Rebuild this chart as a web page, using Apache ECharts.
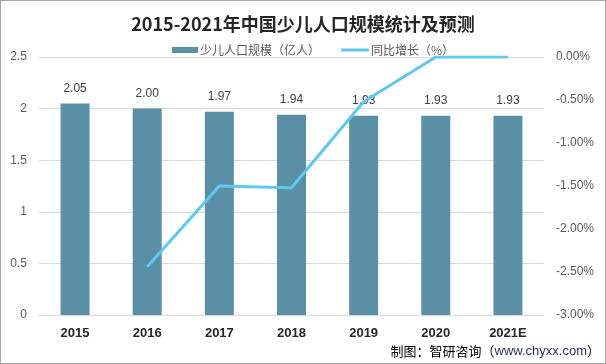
<!DOCTYPE html>
<html><head><meta charset="utf-8">
<script src="https://cdn.jsdelivr.net/npm/echarts@6/dist/echarts.min.js"></script>
<style>html,body{margin:0;padding:0;background:#fff}#c{width:606px;height:364px;box-sizing:border-box;border:1px solid #a6a6a6}</style>
</head><body><div id="c"></div>
<script>
var categories = ['2015','2016','2017','2018','2019','2020','2021E'];
var population = [2.05, 2.00, 1.97, 1.94, 1.93, 1.93, 1.93];
var growth = [null, -2.44, -1.50, -1.52, -0.52, 0.00, 0.00];
var leftTicks = {min: 0, max: 2.5, interval: 0.5};
var rightTicks = {min: -3, max: 0, interval: 0.5};

var chart = echarts.init(document.getElementById('c'));
chart.setOption({
  animation: false,
  title: {
    text: '2015-2021年中国少儿人口规模统计及预测',
    left: 'center', top: 9,
    textStyle: {fontSize: 18, fontWeight: 'bold', color: '#262626', fontFamily: 'Noto Sans CJK SC'}
  },
  legend: [{
    top: 38, left: 166, itemWidth: 26, itemHeight: 6, itemGap: 4,
    textStyle: {fontSize: 12, color: '#595959', fontFamily: 'Noto Sans CJK SC', padding: [0,0,0,-3]},
    data: [{name: '少儿人口规模（亿人）', icon: 'rect'}]
  }, {
    top: 38, left: 335, itemWidth: 28, itemHeight: 3,
    textStyle: {fontSize: 12, color: '#595959', fontFamily: 'Noto Sans CJK SC', padding: [0,0,0,-3]},
    data: [{name: '同比增长（%）', icon: 'roundRect'}]
  }],
  graphic: [{
    type: 'text', right: 5, bottom: 5,
    style: {
      text: '{a|制图：智研咨询（}{b|www.chyxx.com}{a|）}',
      rich: {
        a: {fontSize: 13, fill: '#000', fontFamily: 'Noto Sans CJK SC'},
        b: {fontSize: 13, fill: '#1f2d5c', fontFamily: 'Liberation Sans'}
      }
    }
  }],
  grid: {left: 38, right: 61, top: 56, bottom: 48},
  xAxis: {
    type: 'category', data: categories,
    axisLine: {show: true, lineStyle: {color: '#d9d9d9'}},
    axisTick: {show: false},
    axisLabel: {fontSize: 13, fontWeight: 'bold', color: '#262626', margin: 12, fontFamily: 'Liberation Sans'}
  },
  yAxis: [{
    type: 'value', min: leftTicks.min, max: leftTicks.max, interval: leftTicks.interval,
    axisLine: {show: false}, axisTick: {show: false},
    splitLine: {lineStyle: {color: '#d9d9d9'}},
    axisLabel: {fontSize: 12, color: '#595959', margin: 12}
  }, {
    type: 'value', min: rightTicks.min, max: rightTicks.max, interval: rightTicks.interval,
    axisLine: {show: false}, axisTick: {show: false}, splitLine: {show: false},
    axisLabel: {fontSize: 12, color: '#595959', margin: 12, formatter: function(v){return v.toFixed(2)+'%';}}
  }],
  series: [{
    name: '少儿人口规模（亿人）', type: 'bar', data: population, barWidth: 29,
    itemStyle: {color: '#5b8fa6'},
    label: {show: true, position: 'top', distance: 9, fontSize: 12, color: '#404040', formatter: function(p){return p.value.toFixed(2);}}
  }, {
    name: '同比增长（%）', type: 'line', yAxisIndex: 1, data: growth,
    symbol: 'none', lineStyle: {color: '#5ec8f2', width: 3}, itemStyle: {color: '#5ec8f2'}
  }]
});
</script></body></html>
